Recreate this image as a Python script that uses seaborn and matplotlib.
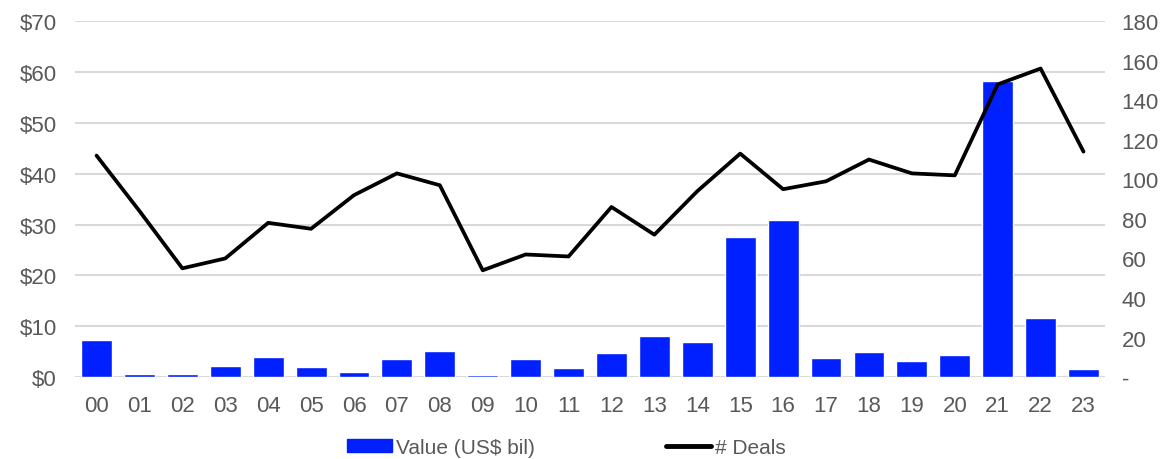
import matplotlib
matplotlib.use("Agg")
import matplotlib.pyplot as plt
import seaborn as sns
import pandas as pd
from matplotlib.patches import Patch
from matplotlib.lines import Line2D
from matplotlib.ticker import FuncFormatter

years = ['00', '01', '02', '03', '04', '05', '06', '07', '08', '09', '10', '11',
         '12', '13', '14', '15', '16', '17', '18', '19', '20', '21', '22', '23']
value_bil = [7.3, 0.7, 0.7, 2.2, 4.0, 2.0, 1.1, 3.5, 5.1, 0.4, 3.5, 1.7,
             4.7, 8.0, 7.0, 27.6, 30.9, 3.8, 4.9, 3.1, 4.4, 58.2, 11.7, 1.6]
deals = [112, 84, 55, 60, 78, 75, 92, 103, 97, 54, 62, 61,
         86, 72, 94, 113, 95, 99, 110, 103, 102, 148, 156, 114]

df = pd.DataFrame({'year': years, 'value': value_bil, 'deals': deals})

sns.set_style('white')
plt.rcParams['font.family'] = ['Liberation Sans', 'DejaVu Sans']
text_color = '#595959'
bar_color = '#0020FF'

fig = plt.figure(figsize=(11.73, 4.6), dpi=100)
ax = fig.add_axes([0.064, 0.178, 0.878, 0.774])

sns.barplot(data=df, x='year', y='value', color=bar_color, width=0.72,
            saturation=1, ax=ax, zorder=2)
ax.set_ylim(0, 70)
ax.set_yticks(range(0, 71, 10))
ax.yaxis.set_major_formatter(FuncFormatter(lambda v, p: f'${v:.0f}'))
ax.grid(axis='y', color='#d9d9d9', linewidth=1.5, zorder=0)
ax.set_axisbelow(True)
ax.set_xlabel('')
ax.set_ylabel('')

ax2 = ax.twinx()
sns.lineplot(x=list(range(len(years))), y=deals, color='black', linewidth=2.7,
             ax=ax2, zorder=3)
ax2.set_ylim(0, 180)
ax2.set_yticks(range(0, 181, 20))
ax2.yaxis.set_major_formatter(FuncFormatter(lambda v, p: '-' if v == 0 else f'{v:.0f}'))
ax2.set_xlim(-0.5, len(years) - 0.5)
ax.set_xlim(-0.5, len(years) - 0.5)

for a in (ax, ax2):
    for s in a.spines.values():
        s.set_visible(False)
    a.tick_params(length=0, labelsize=16, colors=text_color)
ax.tick_params(axis='x', pad=13)
ax.tick_params(axis='y', pad=13)
ax2.tick_params(axis='y', pad=12)

handles = [Patch(color=bar_color), Line2D([0], [0], color='black', linewidth=3.5)]
fig.legend(handles, ['Value (US$ bil)', '# Deals'], loc='center',
           bbox_to_anchor=(0.4825, 0.025), ncol=2, frameon=False, fontsize=15,
           labelcolor=text_color, columnspacing=6.3, handlelength=2.2,
           handleheight=0.6, handletextpad=0.15)

fig.savefig('out.png', dpi=100)
